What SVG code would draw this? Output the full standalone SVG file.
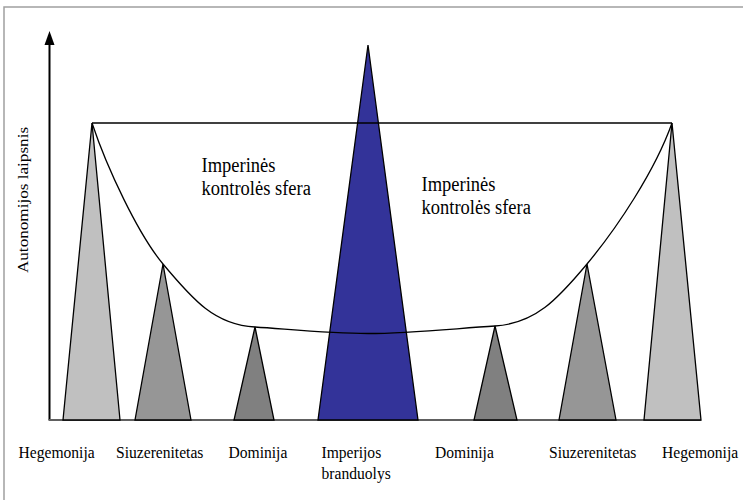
<svg xmlns="http://www.w3.org/2000/svg" width="743" height="500" viewBox="0 0 743 500">
<style>
.tri{stroke:#000;stroke-width:1.3;stroke-linejoin:miter}
.heg{fill:#c0c0c0}.siu{fill:#969696}.dom{fill:#808080}.core{fill:#333399}
.lbl{font-family:"Liberation Serif","Times New Roman",serif;font-size:15.6px;fill:#000}
.big{font-family:"Liberation Serif","Times New Roman",serif;font-size:18.5px;fill:#000}
.ln{fill:none;stroke:#000;stroke-width:1.3}
</style>
<rect x="0" y="0" width="743" height="500" fill="#fff"/>
<path d="M4,500 V7 H743" fill="none" stroke="#a0a0a0" stroke-width="1.5"/>
<g id="axes">
<line x1="49.5" y1="420" x2="49.5" y2="45" stroke="#000" stroke-width="2"/>
<path d="M49.5,31 L54.5,45 L44.5,45 Z" fill="#000"/>
<line x1="48.5" y1="420" x2="701" y2="420" stroke="#606060" stroke-width="2"/>
</g>
<g id="node-heg-left"><polygon class="tri heg" points="92,123 120,420 63,420"/></g>
<g id="node-siu-left"><polygon class="tri siu" points="163,264 191,420 135,420"/></g>
<g id="node-dom-left"><polygon class="tri dom" points="255,327 274,420 234,420"/></g>
<g id="node-core"><polygon class="tri core" points="368,45 418,420 318,420"/></g>
<g id="node-dom-right"><polygon class="tri dom" points="495,326 517,420 474,420"/></g>
<g id="node-siu-right"><polygon class="tri siu" points="587,264 616,420 559,420"/></g>
<g id="node-heg-right"><polygon class="tri heg" points="672,123 701,420 644,420"/></g>
<g id="connectors">
<line class="ln" x1="92" y1="123" x2="672" y2="123"/>
<path class="ln" d="M92,123 C107,168 138,234 163,264 C193,300 215,325 255,327 C292,329.5 330,333.5 368,333.5 C410,333.5 455,328.5 495,326 C535,323.5 557,300 587,264 C617,228 655,171 672,123"/>
</g>
<g id="labels">
<text class="lbl" transform="translate(27.5,200) rotate(-90) scale(1.1,1)" text-anchor="middle">Autonomijos laipsnis</text>
<text class="big" transform="translate(201.5,171.5) scale(1,1.08)">Imperinės</text>
<text class="big" transform="translate(201.5,194.5) scale(1,1.08)">kontrolės sfera</text>
<text class="big" transform="translate(421.5,191) scale(1,1.08)">Imperinės</text>
<text class="big" transform="translate(421.5,214) scale(1,1.08)">kontrolės sfera</text>
<text class="lbl" transform="translate(18.5,457.5) scale(1,1.12)">Hegemonija</text>
<text class="lbl" transform="translate(116,457.5) scale(1,1.12)">Siuzerenitetas</text>
<text class="lbl" transform="translate(228.5,457.5) scale(1,1.12)">Dominija</text>
<text class="lbl" transform="translate(321.5,457.5) scale(1,1.12)">Imperijos</text>
<text class="lbl" transform="translate(321.5,479) scale(1,1.12)">branduolys</text>
<text class="lbl" transform="translate(435,457.5) scale(1,1.12)">Dominija</text>
<text class="lbl" transform="translate(549,457.5) scale(1,1.12)">Siuzerenitetas</text>
<text class="lbl" transform="translate(662,457.5) scale(1,1.12)">Hegemonija</text>
</g>
</svg>
